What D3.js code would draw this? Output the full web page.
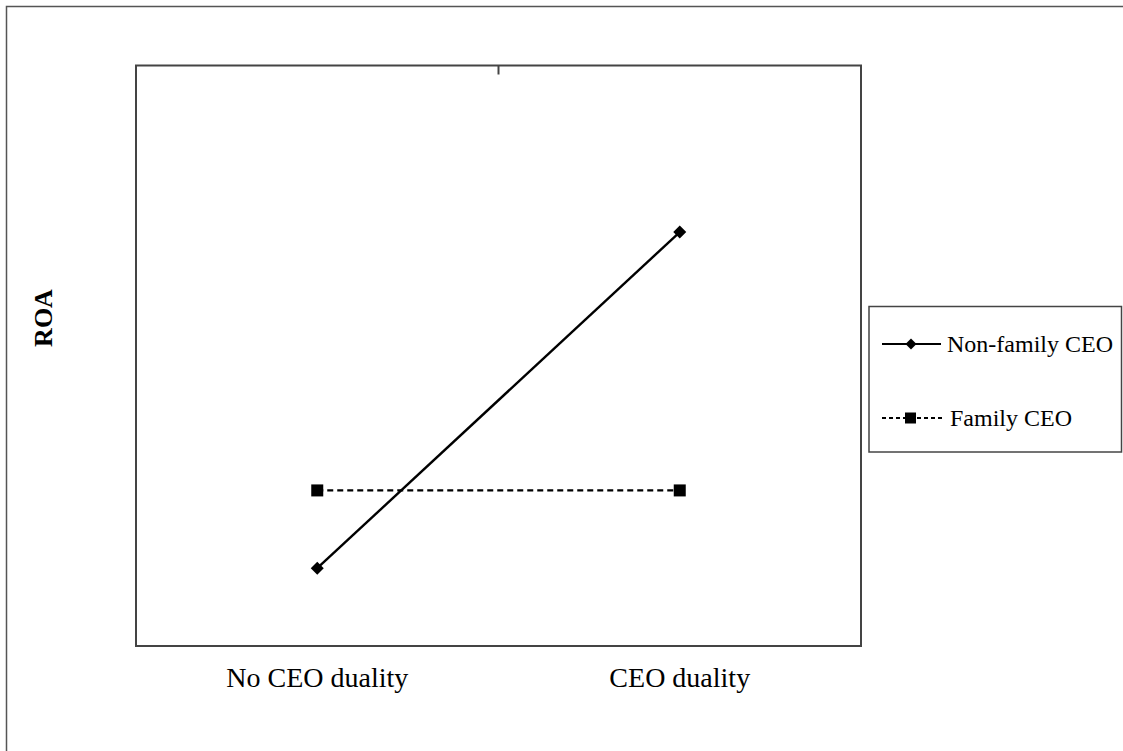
<!DOCTYPE html>
<html>
<head>
<meta charset="utf-8">
<script src="https://cdn.jsdelivr.net/npm/d3@7"></script>
<style>
  html, body { margin: 0; padding: 0; background: #fff; }
  svg { display: block; }
  text { font-family: "Liberation Serif", "Times New Roman", serif; fill: #000; }
</style>
</head>
<body>
<svg id="chart" width="1123" height="751"></svg>
<script>
// ---- data ----
const categories = ["No CEO duality", "CEO duality"];
const seriesNames = ["Non-family CEO", "Family CEO"];
const nonFamilyCEO = [1.34, 7.13];
const familyCEO = [2.68, 2.68];
const yDomain = [0, 10];
const yLabel = "ROA";

const svg = d3.select("#chart");
const W = 1123, H = 751;

// outer frame (extends past right/bottom edges)
svg.append("rect")
  .attr("x", 6.5).attr("y", 6.5)
  .attr("width", W + 20).attr("height", H + 20)
  .attr("fill", "none").attr("stroke", "#555").attr("stroke-width", 1.5);

const plot = { left: 136, top: 65.5, right: 861, bottom: 646 };

const x = d3.scaleBand().domain(categories)
  .range([plot.left, plot.right]).paddingInner(0).paddingOuter(0);
const y = d3.scaleLinear().domain(yDomain).range([plot.bottom, plot.top]);

// plot area border
svg.append("rect")
  .attr("x", plot.left).attr("y", plot.top)
  .attr("width", plot.right - plot.left).attr("height", plot.bottom - plot.top)
  .attr("fill", "none").attr("stroke", "#444").attr("stroke-width", 2);

// top category-boundary tick
categories.slice(1).forEach(c => {
  const bx = x(c);
  svg.append("line")
    .attr("x1", bx).attr("x2", bx)
    .attr("y1", plot.top).attr("y2", plot.top + 9)
    .attr("stroke", "#444").attr("stroke-width", 2);
});

// category labels
svg.selectAll("text.cat").data(categories).enter().append("text")
  .attr("class", "cat")
  .attr("x", d => x(d) + x.bandwidth() / 2)
  .attr("y", 687)
  .attr("text-anchor", "middle")
  .attr("font-size", 28)
  .text(d => d);

// y label
svg.append("text")
  .attr("transform", "translate(52,318) rotate(-90)")
  .attr("text-anchor", "middle")
  .attr("font-size", 26)
  .attr("font-weight", "bold")
  .text(yLabel);

const cx = d => x(d) + x.bandwidth() / 2;
const line = d3.line().x(d => cx(d.c)).y(d => y(d.v));

const nfData = categories.map((c, i) => ({ c, v: nonFamilyCEO[i] }));
const fData = categories.map((c, i) => ({ c, v: familyCEO[i] }));

svg.append("path").datum(fData)
  .attr("d", line).attr("fill", "none")
  .attr("stroke", "#000").attr("stroke-width", 2.2)
  .attr("stroke-dasharray", "6,4");

svg.append("path").datum(nfData)
  .attr("d", line).attr("fill", "none")
  .attr("stroke", "#000").attr("stroke-width", 2.4);

const diamond = d3.symbol().type(d3.symbolSquare).size(85);
svg.selectAll("path.dia").data(nfData).enter().append("path")
  .attr("class", "dia")
  .attr("d", diamond)
  .attr("transform", d => `translate(${cx(d.c)},${y(d.v)}) rotate(45)`)
  .attr("fill", "#000");

svg.selectAll("rect.sq").data(fData).enter().append("rect")
  .attr("class", "sq")
  .attr("x", d => cx(d.c) - 6).attr("y", d => y(d.v) - 6)
  .attr("width", 12).attr("height", 12)
  .attr("fill", "#000");

// legend
const lg = svg.append("g");
lg.append("rect")
  .attr("x", 869).attr("y", 306.5)
  .attr("width", 252.5).attr("height", 145.5)
  .attr("fill", "#fff").attr("stroke", "#444").attr("stroke-width", 1.5);

const legendRows = [
  { name: seriesNames[0], y: 344, dash: null, marker: "diamond", x2: 941, tx: 947 },
  { name: seriesNames[1], y: 418, dash: "4,3", marker: "square", x2: 944, tx: 950 }
];
legendRows.forEach(r => {
  lg.append("line")
    .attr("x1", 882).attr("x2", r.x2)
    .attr("y1", r.y).attr("y2", r.y)
    .attr("stroke", "#000").attr("stroke-width", 2.2)
    .attr("stroke-dasharray", r.dash);
  if (r.marker === "diamond") {
    lg.append("path")
      .attr("d", d3.symbol().type(d3.symbolSquare).size(60))
      .attr("transform", `translate(911,${r.y}) rotate(45)`)
      .attr("fill", "#000");
  } else {
    lg.append("rect")
      .attr("x", 905).attr("y", r.y - 5.5)
      .attr("width", 11).attr("height", 11)
      .attr("fill", "#000");
  }
  lg.append("text")
    .attr("x", r.tx).attr("y", r.y + 8)
    .attr("font-size", 24)
    .text(r.name);
});
</script>
</body>
</html>
